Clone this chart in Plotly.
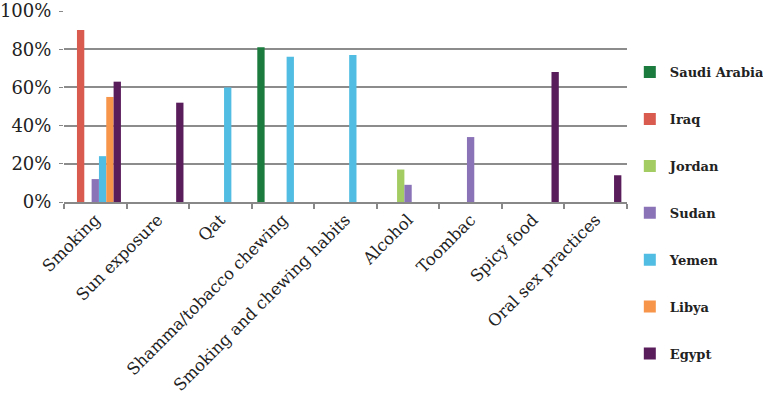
import plotly.graph_objects as go

categories = ["Smoking", "Sun exposure", "Qat", "Shamma/tobacco chewing",
              "Smoking and chewing habits", "Alcohol", "Toombac", "Spicy food",
              "Oral sex practices"]

saudi_arabia = [None, None, None, 81, None, None, None, None, None]
iraq = [90, None, None, None, None, None, None, None, None]
jordan = [None, None, None, None, None, 17, None, None, None]
sudan = [12, None, None, None, None, 9, 34, None, None]
yemen = [24, None, 60, 76, 77, None, None, None, None]
libya = [55, None, None, None, None, None, None, None, None]
egypt = [63, 52, None, None, None, None, None, 68, 14]

series_names = ["Saudi Arabia", "Iraq", "Jordan", "Sudan", "Yemen", "Libya", "Egypt"]
series_values = [saudi_arabia, iraq, jordan, sudan, yemen, libya, egypt]
series_colors = ["#1b7a3e", "#d95b50", "#a3cc63", "#8b73b8", "#52bde2", "#f7954a", "#5a1d5c"]

y_ticks = [0, 20, 40, 60, 80, 100]
y_tick_labels = ["0%", "20%", "40%", "60%", "80%", "100%"]

fig = go.Figure()
for i, (name, vals, col) in enumerate(zip(series_names, series_values, series_colors)):
    fig.add_trace(go.Bar(
        x=categories, y=vals, name=name,
        marker=dict(color=col, line=dict(width=0)),
        legendgroup=name,
    ))

fig.update_layout(
    width=763, height=394,
    margin=dict(l=64, r=136, t=11, b=192, autoexpand=False),
    paper_bgcolor="white", plot_bgcolor="white",
    barmode="group", bargap=0.18, bargroupgap=0,
    font=dict(family="DejaVu Serif", size=16, color="#222222"),
    showlegend=True,
    legend=dict(
        x=1.005, xanchor="left", yref="container", y=0.855, yanchor="top",
        font=dict(family="DejaVu Serif", size=13, color="#222222", weight="bold"),
        tracegroupgap=27, bgcolor="rgba(0,0,0,0)",
        itemwidth=30, maxheight=600,
    ),
    xaxis=dict(
        type="category", tickangle=-45, tickson="boundaries", automargin=False,
        ticks="outside", ticklen=5, tickcolor="#888888", tickwidth=1.5,
        showline=True, linecolor="#888888", linewidth=1.5,
        showgrid=False, tickfont=dict(size=16.5),
    ),
    yaxis=dict(
        range=[0, 100], tickvals=y_ticks, ticktext=y_tick_labels, automargin=False,
        ticks="outside", ticklen=4, tickcolor="#888888",
        showgrid=True, gridcolor="#8c8c8c", gridwidth=1.5,
        showline=False, zeroline=False, ticklabeloverflow="allow",
        tickfont=dict(size=18), ticklabelstandoff=4,
    ),
)

fig.write_html("out.html", config={"displayModeBar": False},
               post_script="document.body.style.margin='0';")
